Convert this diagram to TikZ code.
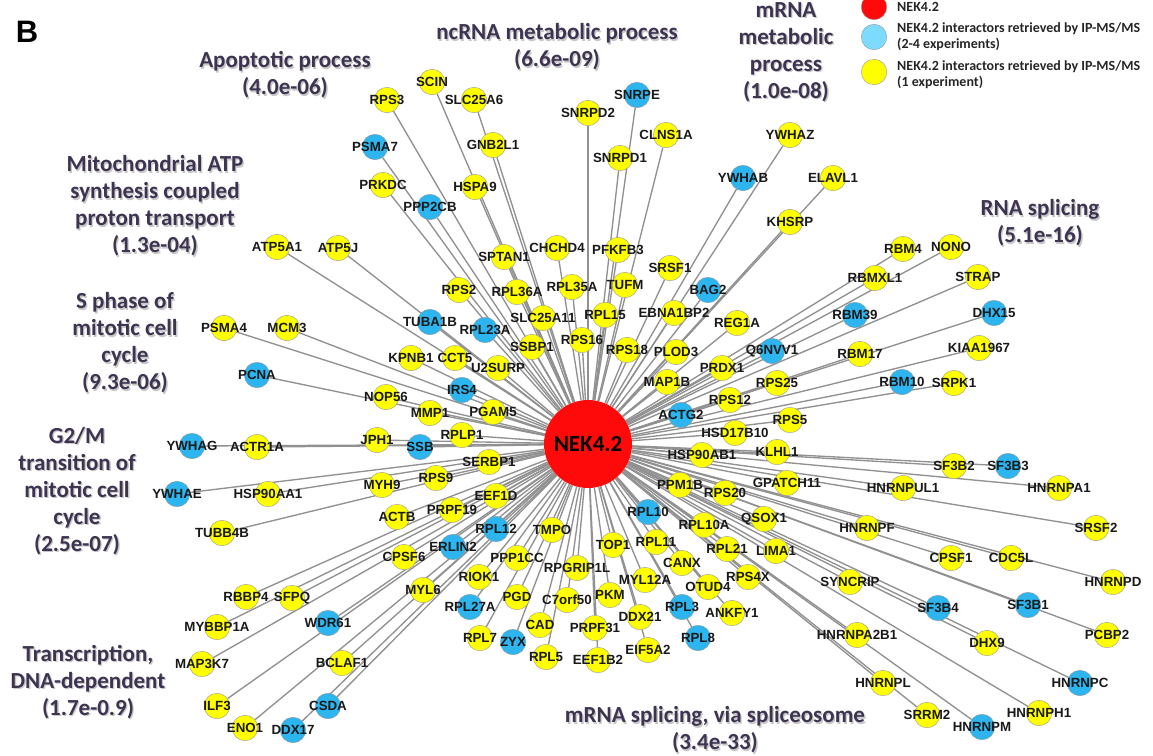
\documentclass[tikz,border=0pt]{standalone}
\usepackage{fontspec}
\setmainfont{Liberation Sans}
\newfontfamily\calfont{Carlito}
\usepackage{tikz}
\usetikzlibrary{calc}
\usetikzlibrary{backgrounds}

\definecolor{nodeyellow}{RGB}{255,255,0}
\definecolor{nodeblue}{RGB}{45,181,240}
\definecolor{keyblue}{RGB}{125,219,255}
\definecolor{hubred}{RGB}{255,10,10}
\definecolor{edgegray}{RGB}{145,145,145}
\definecolor{catcolor}{RGB}{62,52,82}

\newcommand{\process}[4]{%
  \node[category, text=black!22] (#1s) at (#2+1.3,#3+1.3) {#4};
  \node[category] (#1) at (#2,#3) {#4};}

\def\yellowgenes{RPS3/387/100, SCIN/432/82, SLC25A6/474/100, SNRPD2/588/113,
  CLNS1A/666/135, YWHAZ/790/135, GNB2L1/493/145, SNRPD1/620/158,
  ELAVL1/833/178, PRKDC/383/185, HSPA9/475/187, KHSRP/790/222,
  ATP5A1/277/247, ATP5J/338/248, SPTAN1/504/257, CHCHD4/557/248,
  PFKFB3/618/250, SRSF1/670/268, RBM4/903/249, NONO/951/247,
  RPS2/459/290, RPL36A/517/292, RPL35A/572/287, TUFM/625/285,
  RBMXL1/875/278, STRAP/978/277, SLC25A11/543/318, RPL15/605/315,
  EBNA1BP2/674/313, REG1A/737/323, PSMA4/224/328, MCM3/287/328,
  KPNB1/411/358, CCT5/455/358, SSBP1/532/347, RPS16/582/340,
  RPS18/627/350, PLOD3/676/352, RBM17/860/354, KIAA1967/979/348,
  U2SURP/498/368, PRDX1/722/368, MAP1B/667/382, RPS25/777/383,
  SRPK1/954/383, NOP56/386/397, MMP1/430/413, PGAM5/493/412,
  RPS12/730/400, RPS5/790/420, ACTR1A/257/447, JPH1/377/440,
  RPLP1/462/435, HSD17B10/735/433, KLHL1/777/452, SERBP1/489/462,
  HSP90AB1/702/455, SF3B2/954/466, HSP90AA1/268/494, MYH9/382/485,
  RPS9/436/478, PPM1B/680/485, RPS20/725/493, GPATCH11/787/483,
  HNRNPUL1/903/488, HNRNPA1/1059/488, EEF1D/496/496, ACTB/397/517,
  PRPF19/452/510, RPL10A/704/525, QSOX1/764/519, TUBB4B/222/533,
  TMPO/552/530, HNRNPF/867/528, SRSF2/1096/528, CPSF6/404/557,
  TOP1/613/545, RPL11/656/542, RPL21/727/549, LIMA1/776/551,
  CPSF1/951/558, CDC5L/1011/558, PPP1CC/517/558, RPGRIP1L/577/568,
  CANX/682/563, HNRNPD/1113/582, RBBP4/246/597, SFPQ/292/598,
  RIOK1/479/577, MYL12A/645/580, OTUD4/708/587, RPS4X/748/577,
  SYNCRIP/850/582, MYL6/423/590, PGD/517/597, C7orf50/567/600,
  PKM/610/595, MYBBP1A/217/627, ANKFY1/732/613, DDX21/640/617,
  CAD/540/625, PRPF31/595/628, MAP3K7/202/664, RPL7/480/638,
  EIF5A2/648/650, RPL5/546/657, EEF1B2/598/660, HNRNPA2B1/857/635,
  DHX9/987/643, PCBP2/1107/635, BCLAF1/342/663, ILF3/217/706,
  HNRNPL/883/683, ENO1/245/728, SRRM2/927/715, HNRNPH1/1039/713}

\def\bluegenes{PSMA7/375/147, PPP2CB/430/207, SNRPE/637/95, YWHAB/743/178,
  BAG2/708/290, TUBA1B/430/322, RPL23A/485/330, RBM39/855/315,
  DHX15/994/313, Q6NVV1/772/351, PCNA/257/375, IRS4/462/390,
  RBM10/902/382, ACTG2/681/415, YWHAG/192/446, SSB/420/447,
  SF3B3/1008/466, YWHAE/177/494, RPL10/648/512, RPL12/496/529,
  ERLIN2/453/547, WDR61/328/623, RPL27A/470/607, ZYX/513/642,
  RPL3/682/607, RPL8/698/638, SF3B4/938/608, SF3B1/1028/605,
  CSDA/328/706, DDX17/293/730, HNRNPC/1080/683, HNRNPM/982/727}

\begin{document}
\begin{tikzpicture}[x=1pt,y=-1pt,
    protein/.style={circle, draw=black!40, line width=0.4pt, minimum size=25.5pt, inner sep=0pt},
    yellownode/.style={protein, fill=nodeyellow},
    bluenode/.style={protein, fill=nodeblue},
    genelabel/.style={font=\fontsize{13.3}{13.3}\selectfont\bfseries, text=black!90, inner sep=0pt},
    edge/.style={draw=edgegray, line width=1.35pt},
    category/.style={font=\calfont\fontsize{23}{27}\selectfont\bfseries, text=catcolor, align=center},
    keytext/.style={font=\calfont\fontsize{14}{16}\selectfont\bfseries, text=black!85, anchor=west, align=left, inner sep=0pt}
    ]
  \useasboundingbox (0,0) rectangle (1153,755);
  % nodes
  \node[circle, fill=hubred, minimum size=88pt, inner sep=0pt,
        font=\calfont\fontsize{23}{23}\selectfont\bfseries] (NEK) at (588,444) {NEK4.2};
  \foreach \n/\x/\y in \yellowgenes
    \node[yellownode] (\n) at (\x,\y) {};
  \foreach \n/\x/\y in \bluegenes
    \node[bluenode] (\n) at (\x,\y) {};
  % labels
  \foreach \n/\x/\y in \yellowgenes
    \node[genelabel] (\n-lbl) at (\n) {\n};
  \foreach \n/\x/\y in \bluegenes
    \node[genelabel] (\n-lbl) at (\n) {\n};
  % edges
  \begin{scope}[on background layer]
    \fill[white] (0,0) rectangle (1153,755);
    \foreach \n/\x/\y in \yellowgenes
      \draw[edge] (NEK) -- (\n);
    \foreach \n/\x/\y in \bluegenes
      \draw[edge] (NEK) -- (\n);
  \end{scope}
  % processes
  \process{apop}{285}{75}{Apoptotic process\\(4.0e-06)}
  \process{ncrna}{557}{47}{ncRNA metabolic process\\(6.6e-09)}
  \process{mrnameta}{786}{52}{mRNA\\metabolic\\process\\(1.0e-08)}
  \process{mito}{155}{206}{Mitochondrial ATP\\synthesis coupled\\proton transport\\(1.3e-04)}
  \process{rnasplice}{1040}{223}{RNA splicing\\(5.1e-16)}
  \process{sphase}{125}{343}{S phase of\\mitotic cell\\cycle\\(9.3e-06)}
  \process{gtwom}{77}{491}{G2/M\\transition of\\mitotic cell\\cycle\\(2.5e-07)}
  \process{transc}{88}{682}{Transcription,\\DNA-dependent\\(1.7e-0.9)}
  \process{spliceo}{715}{730}{mRNA splicing, via spliceosome\\(3.4e-33)}
  % legend
  \node[font=\fontsize{31}{31}\selectfont\bfseries] (panel) at (27,32) {B};
  \node[protein, fill=hubred] (keyhub) at (874,7) {};
  \node[protein, fill=keyblue] (keyblue) at (874,37) {};
  \node[protein, fill=nodeyellow] (keyyellow) at (874,72) {};
  \node[keytext] (keyhubtxt) at (897,7) {NEK4.2};
  \node[keytext] (keybluetxt) at (897,37) {NEK4.2 interactors retrieved by IP-MS/MS\\(2-4 experiments)};
  \node[keytext] (keyyellowtxt) at (897,75) {NEK4.2 interactors retrieved by IP-MS/MS\\(1 experiment)};
\end{tikzpicture}
\end{document}
